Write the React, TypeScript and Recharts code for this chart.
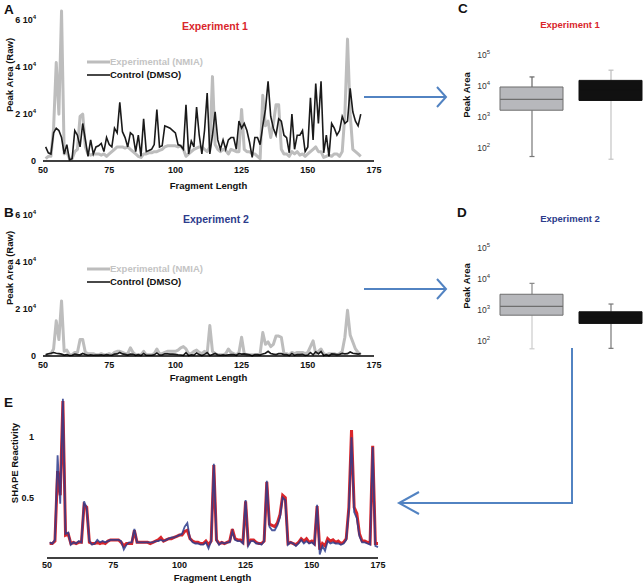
import React from "react";
import { Bar, Cell, ComposedChart, Legend, Line, LineChart, Scatter, XAxis, YAxis } from "recharts";

// fragment positions on the x axis
const fragmentsAB = Array.from({ length: 120 }, (_, i) => 51 + i);
const fragmentsE = Array.from({ length: 125 }, (_, i) => 51 + i);
const fragmentTicks = [50, 75, 100, 125, 150, 175];
const peakTicks = [0, 20000, 40000, 60000];
const shapeTicks = [0.5, 1];
const logTicks = [100, 1000, 10000, 100000];

// raw peak areas, in thousands
const nmia1k = [
  1, 2, 2, 14, 42, 20, 64, 3, 4, 1,
  1, 4, 5, 19, 20, 6, 3, 2.5, 3, 3,
  3, 2.5, 3, 2, 3, 4, 5, 6, 6, 6,
  5.5, 6, 5, 4, 3, 2, 1.5, 3, 3, 3.5,
  3.5, 4, 4, 4.5, 5, 6, 6.5, 6.5, 6.5, 6.5,
  6, 6.5, 5, 2, 3, 4, 5, 5.5, 6, 6,
  5, 4, 6, 36, 7, 5, 4, 5, 4.5, 3,
  5, 4.5, 4, 4, 22, 5, 4, 4, 3, 3,
  2, 1, 28, 15, 17, 10, 16, 24, 24, 5,
  3, 3, 2, 4, 3, 4, 2.5, 3, 2, 3,
  4, 5, 6, 4, 4, 1.5, 2, 2.5, 2, 3,
  3, 2, 4, 20, 52, 20, 5, 4, 3, 2,
];
const dmso1k = [
  6, 3.5, 3, 12, 14, 13, 10, 3, 7, 0.5,
  1, 13, 11, 6, 16, 9, 2, 9, 3, 6,
  6.5, 7.5, 4, 10, 7, 6, 14, 12, 25, 12.5,
  10, 6, 12, 11, 4, 11, 2, 18, 4, 4.5,
  5, 7, 22, 6, 6.5, 15, 14.5, 14, 13, 12,
  7, 6.5, 5, 24, 3, 8.5, 6, 23, 11, 3,
  13, 29, 3, 11, 21, 9, 5, 9, 5, 9,
  10, 10, 5, 17, 14, 16, 13, 8, 1.5, 10,
  10, 7, 15, 22, 34, 19, 14, 11, 18, 17,
  11, 10, 3.5, 20, 5, 11, 11, 13, 4, 6,
  27, 9, 33, 16, 34, 3.5, 11, 2, 16, 14,
  11, 13, 19, 16, 17, 31, 21, 17, 15, 20,
];
const nmia2k = [
  0.5, 0.5, 1, 3, 15, 7, 23.5, 2, 2.5, 0.5,
  0.5, 1.5, 1.5, 7, 7, 1.5, 1, 1, 1, 0.5,
  0.5, 1, 0.5, 0.5, 1, 0.5, 1.5, 2, 2, 1.5,
  1, 1, 3.5, 1.5, 0.5, 0.5, 0.5, 2, 0.5, 0.5,
  0.5, 1, 3, 1, 1, 1.5, 2, 2, 2, 2,
  2.5, 3.5, 4, 3, 1, 1, 2, 2.5, 1.5, 1,
  2, 1, 13, 2, 1, 0.5, 0.5, 0.5, 1, 3,
  1.5, 1, 0.5, 1.5, 8, 1, 0.5, 0.5, 0.5, 0.5,
  0.5, 1, 10, 5, 6, 4, 5, 8.5, 8.5, 8,
  1, 1, 0.5, 1.5, 1, 1.5, 1.5, 1.5, 1, 1.5,
  4, 6.5, 1, 2, 3, 1, 0.5, 1, 1, 1,
  0.5, 1, 2, 8, 19.5, 9, 6, 3, 1.5, 0.5,
];
const dmso2k = [
  0.5, 1, 1.2, 1.5, 1.2, 1, 0.8, 0.4, 0.6, 0.2,
  0.3, 0.8, 0.6, 0.5, 1.1, 0.6, 0.3, 0.5, 0.3, 0.4,
  0.4, 0.5, 0.3, 0.6, 0.4, 0.3, 0.8, 0.9, 1.5, 0.9,
  0.7, 0.4, 0.8, 0.7, 0.3, 0.6, 0.2, 1.1, 0.3, 0.3,
  0.3, 0.5, 1.3, 0.4, 0.4, 0.9, 0.9, 0.8, 0.8, 0.7,
  0.5, 0.4, 0.3, 1.4, 0.2, 0.5, 0.4, 1.3, 0.6, 0.2,
  0.7, 1.5, 0.2, 0.6, 1.1, 0.5, 0.3, 0.5, 0.3, 0.5,
  0.6, 0.6, 0.3, 1, 0.8, 0.9, 0.7, 0.5, 0.1, 0.6,
  0.6, 0.4, 0.9, 1.2, 2, 1.1, 0.8, 0.6, 1, 1,
  0.6, 0.6, 0.2, 1.1, 0.3, 0.6, 0.6, 0.7, 0.2, 0.4,
  1.5, 0.5, 1.8, 0.9, 1.9, 0.2, 0.6, 0.1, 0.9, 0.8,
  0.6, 0.7, 1.1, 0.9, 1, 1.7, 1.2, 1, 0.8, 1.1,
];

// SHAPE reactivity, experiment 1 (red) and experiment 2 (blue)
const shapeRed = [
  0.12, 0.12, 0.14, 0.72, 0.52, 1.3, 0.19, 0.2, 0.12, 0.13,
  0.12, 0.13, 0.13, 0.44, 0.42, 0.13, 0.12, 0.12, 0.13, 0.12,
  0.13, 0.12, 0.14, 0.15, 0.15, 0.15, 0.15, 0.13, 0.1, 0.12,
  0.12, 0.12, 0.23, 0.13, 0.13, 0.13, 0.13, 0.13, 0.12, 0.13,
  0.14, 0.15, 0.17, 0.14, 0.15, 0.16, 0.16, 0.17, 0.18, 0.19,
  0.19, 0.22, 0.23, 0.16, 0.14, 0.13, 0.13, 0.12, 0.12, 0.14,
  0.11, 0.14, 0.77, 0.15, 0.12, 0.13, 0.12, 0.13, 0.14, 0.24,
  0.16, 0.15, 0.15, 0.13, 0.47, 0.12, 0.15, 0.15, 0.13, 0.12,
  0.12, 0.14, 0.63, 0.28, 0.27, 0.26, 0.29, 0.36, 0.52, 0.5,
  0.12, 0.13, 0.12, 0.11, 0.13, 0.16, 0.14, 0.16, 0.13, 0.14,
  0.12, 0.43, 0.07, 0.12, 0.1, 0.16, 0.14, 0.15, 0.13, 0.14,
  0.12, 0.13, 0.16, 0.42, 1.06, 0.42, 0.37, 0.2, 0.14, 0.14,
  0.13, 0.12, 0.93, 0.12, 0.12,
];
const shapeBlue = [
  0.13, 0.12, 0.15, 0.85, 0.45, 1.32, 0.2, 0.21, 0.11, 0.13,
  0.12, 0.14, 0.13, 0.47, 0.41, 0.14, 0.11, 0.12, 0.15, 0.13,
  0.14, 0.13, 0.14, 0.15, 0.15, 0.15, 0.15, 0.14, 0.07, 0.11,
  0.13, 0.13, 0.24, 0.13, 0.13, 0.13, 0.13, 0.13, 0.13, 0.13,
  0.14, 0.14, 0.15, 0.14, 0.15, 0.16, 0.17, 0.17, 0.18, 0.19,
  0.2, 0.26, 0.29, 0.16, 0.13, 0.12, 0.12, 0.11, 0.11, 0.13,
  0.08, 0.14, 0.78, 0.15, 0.11, 0.13, 0.12, 0.13, 0.13, 0.22,
  0.15, 0.14, 0.14, 0.12, 0.48, 0.1, 0.14, 0.14, 0.12, 0.12,
  0.11, 0.14, 0.64, 0.26, 0.23, 0.23, 0.27, 0.34, 0.5, 0.48,
  0.11, 0.13, 0.12, 0.1, 0.12, 0.15, 0.12, 0.14, 0.12, 0.13,
  0.11, 0.44, 0.03, 0.1, 0.06, 0.14, 0.12, 0.13, 0.12, 0.12,
  0.11, 0.12, 0.15, 0.4, 1.0, 0.38, 0.33, 0.18, 0.13, 0.13,
  0.12, 0.11, 0.92, 0.1, 0.09,
];

// box plots: [low, high] of each piece, per group
const boxGroups = ["Experimental (NMIA)", "Control (DMSO)"];
const exp1Upper = [[9500, 20000], [15500, 33000]];
const exp1Box = [[1700, 9500], [3500, 15500]];
const exp1Lower = [[55, 1700], [45, 3500]];
const exp1Median = [3800, 7500];
const exp2Upper = [[3300, 7400], [900, 1600]];
const exp2Box = [[700, 3300], [380, 900]];
const exp2Lower = [[58, 700], [60, 380]];
const exp2Median = [1350, 600];

const FONT = '"Liberation Sans", Arial, sans-serif';
const GRAY = "#bdbdbd";
const BLACK = "#1a1a1a";
const RED1 = "#d9262b";
const BLUE2 = "#2d3c8c";
const ARROW = "#5283c2";

function PeakTick({ x, y, payload }: any) {
  const v = payload.value as number;
  return (
    <text x={x} y={y} dy={3} textAnchor="end" fontSize={9} fontWeight={700} fill="#111">
      {v === 0 ? "0" : `${v / 10000} 10`}
      {v === 0 ? null : (
        <tspan dy={-4} fontSize={6}>
          4
        </tspan>
      )}
    </text>
  );
}

function LogTick({ x, y, payload }: any) {
  const e = Math.round(Math.log10(payload.value));
  return (
    <text x={x} y={y} dy={3} textAnchor="end" fontSize={8.5} fill="#333">
      10
      <tspan dy={-4} fontSize={6}>
        {e}
      </tspan>
    </text>
  );
}

const sideTitle = (text: string, x: number, y: number) => () => (
  <text
    x={x}
    y={y}
    transform={`rotate(-90 ${x} ${y})`}
    textAnchor="middle"
    dominantBaseline="central"
    fontSize={9.5}
    fontWeight={700}
    fill="#111"
  >
    {text}
  </text>
);

function SeriesLegend({ payload }: any) {
  // keep the series order (Recharts sorts the legend by name otherwise)
  const items = [...(payload || [])].sort(
    (a: any, b: any) => boxGroups.indexOf(a.value) - boxGroups.indexOf(b.value)
  );
  return (
    <div style={{ display: "flex", flexDirection: "column" }}>
      {items.map((e: any) => (
        <div key={e.value} style={{ display: "flex", alignItems: "center", height: 13 }}>
          <svg width={23} height={6}>
            <line x1={0} x2={23} y1={3} y2={3} stroke={e.color} strokeWidth={e.color === GRAY ? 3 : 1.6} />
          </svg>
          <span
            style={{
              fontSize: 9.5,
              fontWeight: 700,
              fontFamily: FONT,
              color: e.color === GRAY ? "#c4c4c4" : "#111",
              whiteSpace: "nowrap",
            }}
          >
            {e.value}
          </span>
        </div>
      ))}
    </div>
  );
}

function RawPanel({ top, nmia, dmso, legendTop, titleY, labelOffset }: any) {
  const rows = fragmentsAB.map((f, i) => ({ fragment: f, nmia: nmia[i] * 1000, dmso: dmso[i] * 1000 }));
  return (
    <div style={{ position: "absolute", left: 0, top }}>
      <LineChart width={400} height={195} data={rows} margin={{ top: 11, right: 26, bottom: 0, left: 0 }}>
        <XAxis
          dataKey="fragment"
          type="number"
          domain={[50, 175]}
          ticks={fragmentTicks}
          height={34}
          axisLine={{ stroke: "#000", strokeWidth: 1.5 }}
          tickLine={false}
          tickSize={0}
          tickMargin={6}
          tick={{ fontSize: 9, fontWeight: 700, fill: "#111" }}
          label={{ value: "Fragment Length", position: "insideBottom", offset: labelOffset, fontSize: 9.5, fontWeight: 700, fill: "#111" }}
        />
        <YAxis
          type="number"
          domain={[0, 64000]}
          ticks={peakTicks}
          width={43}
          axisLine={false}
          tickLine={false}
          tickSize={0}
          tickMargin={7}
          tick={<PeakTick />}
          label={sideTitle("Peak Area (Raw)", 9, titleY)}
        />
        <Legend
          layout="vertical"
          align="center"
          verticalAlign="middle"
          content={<SeriesLegend />}
          wrapperStyle={{ left: 87, top: legendTop, width: 150 }}
        />
        <Line
          name="Experimental (NMIA)"
          dataKey="nmia"
          stroke={GRAY}
          strokeWidth={3}
          dot={false}
          strokeLinejoin="round"
          isAnimationActive={false}
        />
        <Line
          name="Control (DMSO)"
          dataKey="dmso"
          stroke={BLACK}
          strokeWidth={1.6}
          dot={false}
          isAnimationActive={false}
        />
      </LineChart>
    </div>
  );
}

function WhiskerShape(colors: string[], capAtTop: boolean) {
  return (p: any) => {
    const i = boxGroups.indexOf(p.payload?.group);
    const c = colors[i < 0 ? 0 : i];
    const cx = p.x + p.width / 2;
    const capY = capAtTop ? p.y : p.y + p.height;
    return (
      <g>
        <line x1={cx} x2={cx} y1={p.y} y2={p.y + p.height} stroke={c} strokeWidth={1.2} />
        <line x1={cx - 2.5} x2={cx + 2.5} y1={capY} y2={capY} stroke={c} strokeWidth={1.2} />
      </g>
    );
  };
}

const boxFills = ["#b7b8bc", "#111111"];
const boxStrokes = ["#6e6e6e", "#111111"];
const medianColors = ["#6e6e6e", "#111111"];

function BoxPanel({ top, upper, box, lower, median, upperColors, lowerColors, titleY }: any) {
  const rows = boxGroups.map((g, i) => ({ group: g, upper: upper[i], box: box[i], lower: lower[i], median: median[i] }));
  return (
    <div style={{ position: "absolute", left: 440, top }}>
      <ComposedChart width={210} height={130} data={rows} margin={{ top: 10, right: 0, bottom: 5, left: 0 }}>
        <XAxis xAxisId="u" dataKey="group" type="category" hide />
        <XAxis xAxisId="l" dataKey="group" type="category" hide />
        <XAxis xAxisId="b" dataKey="group" type="category" hide />
        <YAxis
          type="number"
          scale="log"
          domain={[31.6, 158489]}
          allowDataOverflow
          ticks={logTicks}
          width={52}
          axisLine={false}
          tickLine={false}
          tickSize={0}
          tickMargin={2}
          tick={<LogTick />}
          label={sideTitle("Peak Area", 26, titleY)}
        />
        <Bar xAxisId="u" dataKey="upper" barSize={6} shape={WhiskerShape(upperColors, true)} isAnimationActive={false} />
        <Bar xAxisId="l" dataKey="lower" barSize={6} shape={WhiskerShape(lowerColors, false)} isAnimationActive={false} />
        <Bar xAxisId="b" dataKey="box" barSize={63} isAnimationActive={false}>
          {rows.map((r, i) => (
            <Cell key={r.group} fill={boxFills[i]} stroke={boxStrokes[i]} strokeWidth={1} />
          ))}
        </Bar>
        <Scatter
          xAxisId="b"
          dataKey="median"
          isAnimationActive={false}
          shape={(p: any) => {
            const i = boxGroups.indexOf(p.payload?.group);
            return (
              <line x1={p.cx - 31.5} x2={p.cx + 31.5} y1={p.cy} y2={p.cy} stroke={medianColors[i < 0 ? 0 : i]} strokeWidth={1.2} />
            );
          }}
        />
      </ComposedChart>
    </div>
  );
}

function ShapePanel() {
  const rows = fragmentsE.map((f, i) => ({ fragment: f, red: shapeRed[i], blue: shapeBlue[i] }));
  return (
    <div style={{ position: "absolute", left: 0, top: 378 }}>
      <LineChart width={400} height={206} data={rows} margin={{ top: 11, right: 22, bottom: 0, left: 0 }}>
        <XAxis
          dataKey="fragment"
          type="number"
          domain={[50, 175]}
          ticks={fragmentTicks}
          height={26}
          axisLine={{ stroke: "#000", strokeWidth: 1.5 }}
          tickLine={false}
          tickSize={0}
          tickMargin={4}
          tick={{ fontSize: 9, fontWeight: 700, fill: "#111" }}
          label={{ value: "Fragment Length", position: "insideBottom", offset: 3, fontSize: 9.5, fontWeight: 700, fill: "#111" }}
        />
        <YAxis
          type="number"
          domain={[0, 1.4]}
          ticks={shapeTicks}
          width={47}
          axisLine={false}
          tickLine={false}
          tickSize={0}
          tickMargin={13}
          tick={{ fontSize: 9, fontWeight: 700, fill: "#111" }}
          label={sideTitle("SHAPE Reactivity", 14, 85)}
        />
        <Line dataKey="red" name="Experiment 1" stroke={RED1} strokeWidth={3} dot={false} isAnimationActive={false} />
        <Line
          dataKey="blue"
          name="Experiment 2"
          stroke={BLUE2}
          strokeOpacity={0.85}
          strokeWidth={1.8}
          dot={false}
          isAnimationActive={false}
        />
      </LineChart>
    </div>
  );
}

function Overlay() {
  const letter = { fontSize: 13.5, fontWeight: 700, fill: "#111", fontFamily: FONT };
  const title = { fontSize: 10.5, fontWeight: 700, fontFamily: FONT, textAnchor: "middle" as const };
  const arrow = { stroke: ARROW, strokeWidth: 2, fill: "none" };
  return (
    <svg width={643} height={584} style={{ position: "absolute", left: 0, top: 0, pointerEvents: "none" }}>
      <text x={4} y={14} {...letter}>A</text>
      <text x={4} y={217} {...letter}>B</text>
      <text x={458} y={13} {...letter}>C</text>
      <text x={457} y={217} {...letter}>D</text>
      <text x={4} y={407} {...letter}>E</text>
      <text x={215} y={30} fill={RED1} {...title}>Experiment 1</text>
      <text x={216} y={223} fill={BLUE2} {...title}>Experiment 2</text>
      <text x={570} y={28} fill={RED1} {...title} fontSize={9.5}>Experiment 1</text>
      <text x={570} y={222} fill={BLUE2} {...title} fontSize={9.5}>Experiment 2</text>
      <line x1={364} y1={97} x2={446} y2={97} {...arrow} />
      <polyline points="437,87 446,97 437,107" {...arrow} />
      <line x1={364} y1={289} x2={446} y2={289} {...arrow} />
      <polyline points="437,279 446,289 437,299" {...arrow} />
      <polyline points="572,348 572,503 399,503" {...arrow} />
      <polyline points="419,492 399,503 419,514" {...arrow} />
    </svg>
  );
}

export default function App() {
  return (
    <div
      style={{
        position: "absolute",
        left: 0,
        top: 0,
        width: 643,
        height: 584,
        overflow: "hidden",
        background: "#fff",
        fontFamily: FONT,
      }}
    >
      <RawPanel top={0} nmia={nmia1k} dmso={dmso1k} legendTop={55} titleY={75} labelOffset={6} />
      <RawPanel top={195} nmia={nmia2k} dmso={dmso2k} legendTop={67} titleY={73} labelOffset={9} />
      <ShapePanel />
      <BoxPanel
        top={39}
        upper={exp1Upper}
        box={exp1Box}
        lower={exp1Lower}
        median={exp1Median}
        upperColors={["#666666", "#bdbdbd"]}
        lowerColors={["#777777", "#c4c4c4"]}
        titleY={56}
      />
      <BoxPanel
        top={232}
        upper={exp2Upper}
        box={exp2Box}
        lower={exp2Lower}
        median={exp2Median}
        upperColors={["#888888", "#777777"]}
        lowerColors={["#cccccc", "#777777"]}
        titleY={54}
      />
      <Overlay />
    </div>
  );
}
